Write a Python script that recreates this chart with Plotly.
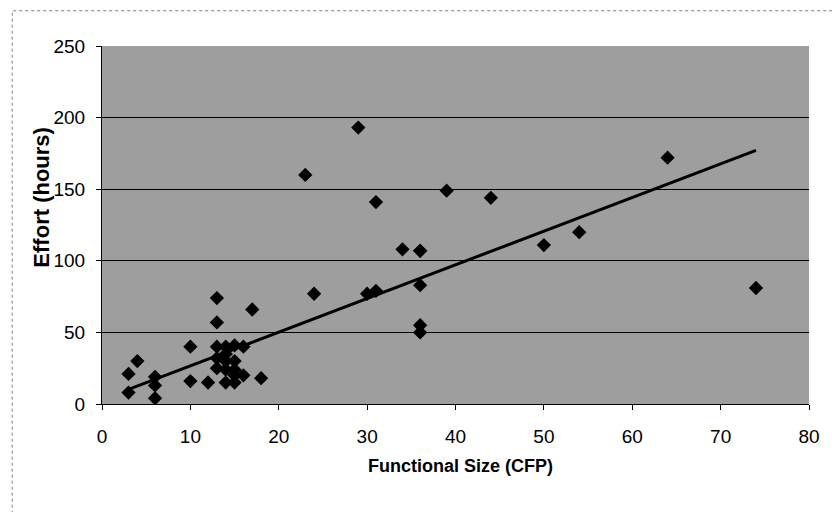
import plotly.graph_objects as go

# Functional size (CFP) and measured effort (hours) per project
size_cfp = [3, 3, 4, 6, 6, 6, 10, 10, 12,
            13, 13, 13, 13, 13,
            14, 14, 14, 14, 14,
            15, 15, 15, 15, 15,
            16, 16, 17, 18, 23, 24, 29, 30, 31, 31,
            34, 36, 36, 36, 36, 36, 39, 44, 50, 54, 64, 74]
effort_hours = [8, 21, 30, 19, 13, 4, 40, 16, 15,
                74, 57, 40, 32, 25,
                40, 35, 30, 24, 15,
                41, 30, 24, 20, 15,
                40, 20, 66, 18, 160, 77, 193, 77, 79, 141,
                108, 107, 83, 55, 50, 107, 149, 144, 111, 120, 172, 81]

# Linear trend line: effort = slope * size + intercept
trend_slope = 2.35
trend_intercept = 3.2
trend_x = [min(size_cfp), max(size_cfp)]
trend_y = [trend_slope * v + trend_intercept for v in trend_x]

x_ticks = [0, 10, 20, 30, 40, 50, 60, 70, 80]
y_ticks = [0, 50, 100, 150, 200, 250]

tick_font = dict(family="Liberation Sans Narrow, Arial Narrow, Liberation Sans, Arial",
                 size=19, color="black")

fig = go.Figure()
fig.add_trace(go.Scatter(
    x=size_cfp, y=effort_hours, mode="markers",
    marker=dict(symbol="diamond", size=11, color="black"),
    showlegend=False, hoverinfo="x+y",
))
fig.add_trace(go.Scatter(
    x=trend_x, y=trend_y, mode="lines",
    line=dict(color="black", width=3),
    showlegend=False, hoverinfo="skip",
))

fig.update_layout(
    width=832, height=512,
    margin=dict(l=102, r=14, t=46, b=108),
    paper_bgcolor="white",
    plot_bgcolor="#9e9e9e",
    xaxis=dict(
        range=[0, 80], tickvals=x_ticks, ticks="outside", ticklen=5,
        tickcolor="black", showline=True, linecolor="black", linewidth=1,
        showgrid=False, zeroline=False, tickfont=tick_font,
        ticklabelstandoff=10,
    ),
    yaxis=dict(
        range=[0, 250], tickvals=y_ticks, ticks="outside", ticklen=5,
        tickcolor="black", showline=True, linecolor="black", linewidth=1,
        showgrid=True, gridcolor="black", gridwidth=1, zeroline=False,
        tickfont=tick_font, ticklabelstandoff=7,
    ),
    annotations=[
        dict(text="<b>Functional Size (CFP)</b>", xref="paper", yref="paper",
             x=0.507, y=-0.174, xanchor="center", yanchor="middle", showarrow=False,
             font=dict(family="Liberation Sans, Arial", size=18, color="black")),
        dict(text="<b>Effort (hours)</b>", xref="paper", yref="paper",
             x=-0.086, y=0.577, xanchor="center", yanchor="middle", showarrow=False,
             textangle=-90,
             font=dict(family="Liberation Sans, Arial", size=22, color="black")),
    ],
    shapes=[dict(
        type="rect", xref="paper", yref="paper",
        x0=-0.127, x1=1.3, y0=-0.5, y1=1.0985,
        line=dict(color="#7a7a7a", width=1, dash="dot"),
        fillcolor="rgba(0,0,0,0)", layer="below",
    )],
)

fig.write_html("out.html")
